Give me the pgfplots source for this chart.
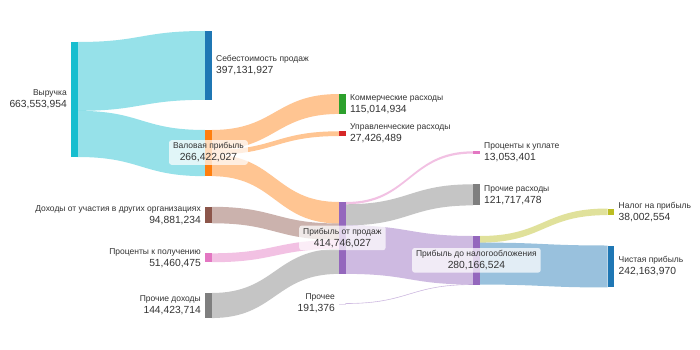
\documentclass[border=0pt]{standalone}
\usepackage{fontspec}
\setmainfont{Liberation Sans}
\usepackage{pgfplots}
\pgfplotsset{compat=1.18}
\definecolor{cRev}{HTML}{17BECF}
\definecolor{cBlue}{HTML}{1F77B4}
\definecolor{cOrange}{HTML}{FF7F0E}
\definecolor{cGreen}{HTML}{2CA02C}
\definecolor{cRed}{HTML}{D62728}
\definecolor{cBrown}{HTML}{8C564B}
\definecolor{cPink}{HTML}{E377C2}
\definecolor{cGray}{HTML}{7F7F7F}
\definecolor{cPurple}{HTML}{9467BD}
\definecolor{cOlive}{HTML}{BCBD22}
\definecolor{txt}{HTML}{333333}
% pixels per million
\def\kscale{0.17331}
% node bar: x, top (px), value (millions), colour
\newcommand\nodebar[4]{\addplot[fill=#4, draw=none, forget plot] table[row sep=\\, x expr=#1+\thisrow{dx}, y expr=#2+\thisrow{f}*#3*\kscale]{dx f\\ 0 0\\ 6.7 0\\ 6.7 1\\ 0 1\\};}
% flow: x0, y0 top, x1, y1 top, value (millions), style
\newcommand\flow[6]{\path[#6] (axis cs:#1,#2) .. controls (axis cs:{(#1+#3)/2},#2) and (axis cs:{(#1+#3)/2},#4) .. (axis cs:#3,#4) -- (axis cs:#3,{#4+#5*\kscale}) .. controls (axis cs:{(#1+#3)/2},{#4+#5*\kscale}) and (axis cs:{(#1+#3)/2},{#2+#5*\kscale}) .. (axis cs:#1,{#2+#5*\kscale}) -- cycle;}
\newcommand\nm[1]{{\fontsize{8.5}{12}\selectfont #1}}
\newcommand\vl[1]{{\fontsize{10.3}{12}\selectfont #1}}
\tikzset{
  rl/.style={anchor=west, align=left, inner sep=0pt, text=txt, font=\fontsize{8.5}{12}\selectfont},
  ll/.style={anchor=east, align=right, inner sep=0pt, text=txt, font=\fontsize{8.5}{12}\selectfont},
  cl/.style={anchor=center, align=center, inner xsep=4pt, inner ysep=2.5pt, text=txt, fill=white, fill opacity=0.72, text opacity=1, rounded corners=2.5pt, font=\fontsize{8.5}{12}\selectfont},
  fl/.style={fill=#1, fill opacity=0.45, draw=none},
}
\begin{document}
\begin{tikzpicture}
\begin{axis}[width=700pt, height=350pt, scale only axis, xmin=0, xmax=700, ymin=0, ymax=350, y dir=reverse, hide axis, clip=false]
\fill[white] (axis cs:0,0) rectangle (axis cs:700,350);
% flows
\flow{77.7}{42}{205}{31}{397.131927}{fl=cRev}
\flow{77.7}{42+397.131927*\kscale}{205}{130}{266.422027}{fl=cRev}
\flow{211.7}{130}{339}{94}{115.014934}{fl=cOrange}
\flow{211.7}{130+115.014934*\kscale}{339}{131.3}{27.426489}{fl=cOrange}
\flow{211.7}{130+142.441423*\kscale}{339}{202}{123.980604}{fl=cOrange}
\flow{211.7}{206.8}{339}{202+123.980604*\kscale}{94.881234}{fl=cBrown}
\flow{211.7}{253.3}{339}{202+218.861838*\kscale}{51.460475}{fl=cPink}
\flow{211.7}{293}{339}{202+270.322313*\kscale}{144.423714}{fl=cGray}
\flow{345.7}{202}{473}{151.3}{13.053401}{fl=cPink}
\flow{345.7}{202+13.053401*\kscale}{473}{184.3}{121.717478}{fl=cGray}
\flow{345.7}{202+134.770879*\kscale}{473}{236}{279.975148}{fl=cPurple}
\flow{345.7}{303.5}{473}{236+279.975148*\kscale}{0.191376}{fill=cPurple, fill opacity=0.45, draw=cPurple, draw opacity=0.35, line width=0.6pt}
\flow{479.7}{236}{607.5}{208.5}{38.002554}{fl=cOlive}
\flow{479.7}{236+38.002554*\kscale}{607.5}{245.5}{242.163970}{fl=cBlue}
% node bars
\nodebar{71}{42}{663.553954}{cRev}
\nodebar{205}{31}{397.131927}{cBlue}
\nodebar{205}{130}{266.422027}{cOrange}
\nodebar{339}{94}{115.014934}{cGreen}
\nodebar{339}{131.3}{27.426489}{cRed}
\nodebar{205}{206.8}{94.881234}{cBrown}
\nodebar{205}{253.3}{51.460475}{cPink}
\nodebar{205}{293}{144.423714}{cGray}
\nodebar{339}{202}{414.746027}{cPurple}
\nodebar{339}{303.5}{0.191376}{cPurple!25}
\nodebar{473}{151.3}{13.053401}{cPink}
\nodebar{473}{184.3}{121.717478}{cGray}
\nodebar{473}{236}{280.166524}{cPurple}
\nodebar{607.5}{208.5}{38.002554}{cOlive}
\nodebar{607.5}{245.5}{242.163970}{cBlue}
% labels
\node[ll] at (axis cs:67,99.5) {\nm{Выручка}\\\vl{663,553,954}};
\node[rl] at (axis cs:216,65.4) {\nm{Себестоимость продаж}\\\vl{397,131,927}};
\node[cl] at (axis cs:208.4,152.5) {\nm{Валовая прибыль}\\\vl{266,422,027}};
\node[rl] at (axis cs:350,104) {\nm{Коммерческие расходы}\\\vl{115,014,934}};
\node[rl] at (axis cs:350,133.7) {\nm{Управленческие расходы}\\\vl{27,426,489}};
\node[ll] at (axis cs:201,215) {\nm{Доходы от участия в других организациях}\\\vl{94,881,234}};
\node[ll] at (axis cs:201,257.8) {\nm{Проценты к получению}\\\vl{51,460,475}};
\node[ll] at (axis cs:201,305.5) {\nm{Прочие доходы}\\\vl{144,423,714}};
\node[cl] at (axis cs:342.4,237.9) {\nm{Прибыль от продаж}\\\vl{414,746,027}};
\node[ll] at (axis cs:335,303.5) {\nm{Прочее}\\\vl{191,376}};
\node[rl] at (axis cs:484,152.4) {\nm{Проценты к уплате}\\\vl{13,053,401}};
\node[rl] at (axis cs:484,194.8) {\nm{Прочие расходы}\\\vl{121,717,478}};
\node[cl] at (axis cs:476.4,260.3) {\nm{Прибыль до налогообложения}\\\vl{280,166,524}};
\node[rl] at (axis cs:618.5,211.8) {\nm{Налог на прибыль}\\\vl{38,002,554}};
\node[rl] at (axis cs:618.5,266.5) {\nm{Чистая прибыль}\\\vl{242,163,970}};
\end{axis}
\end{tikzpicture}
\end{document}
